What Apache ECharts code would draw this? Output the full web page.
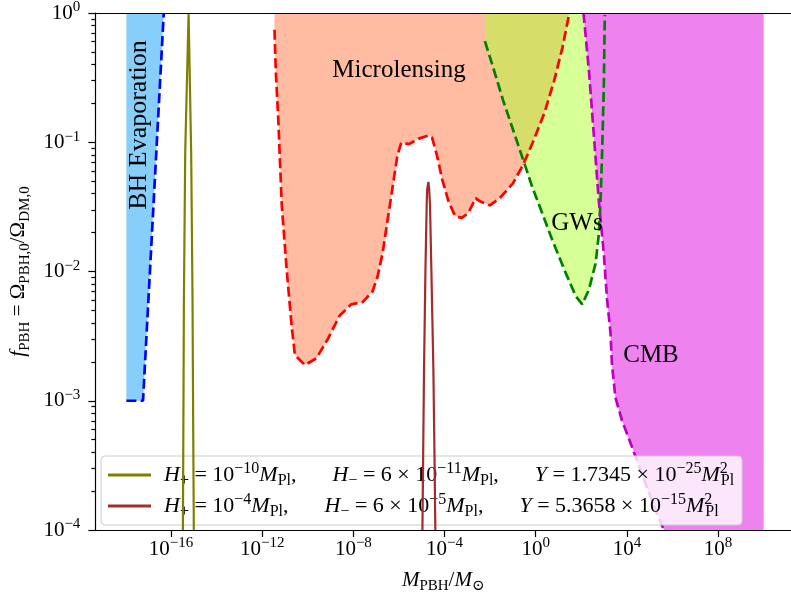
<!DOCTYPE html>
<html><head><meta charset="utf-8">
<script src="https://cdn.jsdelivr.net/npm/echarts@6/dist/echarts.min.js"></script>
<style>html,body{margin:0;padding:0;background:#fff}#c{width:791px;height:599px}</style>
</head><body><div id="c"></div>
<script>
// ---- data ----
const xTickVals = [1e-16, 1e-12, 1e-8, 1e-4, 1, 1e4, 1e8];
const yTickVals = [1e-4, 1e-3, 1e-2, 1e-1, 1];
const yMinorVals = [2e-4,3e-4,4e-4,5e-4,6e-4,7e-4,8e-4,9e-4,
  2e-3,3e-3,4e-3,5e-3,6e-3,7e-3,8e-3,9e-3,
  2e-2,3e-2,4e-2,5e-2,6e-2,7e-2,8e-2,9e-2,
  0.2,0.3,0.4,0.5,0.6,0.7,0.8,0.9];

const bhMass = [1.1e-18, 5.9e-18, 4.8e-17];
const bhFrac = [1e-3, 1e-3, 1.0];

const mlMass = [3.46e-12, 3.94e-12, 5.16e-12, 7.19e-12, 1.19e-11, 1.95e-11, 2.72e-11, 7.41e-11, 2.39e-10, 7.71e-10,
  2.46e-9, 7.94e-9, 2.56e-8, 6.97e-8, 1.15e-7, 1.90e-7, 3.13e-7, 5.17e-7, 8.51e-7, 1.27e-6,
  2.72e-6, 7.41e-6, 2.01e-5, 2.83e-5, 4.67e-5, 7.71e-5, 1.49e-4, 2.92e-4, 5.71e-4, 1.10e-3,
  2.32e-3, 3.56e-3, 9.70e-3, 0.0264, 0.1, 0.272, 0.741, 2.39, 6.50, 14.9, 30];
const mlFrac = [0.743, 0.357, 0.141, 0.0329, 0.01026, 3.81e-3, 2.26e-3, 1.89e-3, 2.13e-3, 3.02e-3,
  4.54e-3, 5.57e-3, 5.80e-3, 7.03e-3, 9.14e-3, 0.01375, 0.0246, 0.0441, 0.0789, 0.0995,
  0.0967, 0.1067, 0.113, 0.1087, 0.0789, 0.0524, 0.0349, 0.0268, 0.0260, 0.0284,
  0.0370, 0.0349, 0.0325, 0.0370, 0.0481, 0.0662, 0.0995, 0.168, 0.301, 0.540, 1.0];

const gwMass = [5.89e-3, 0.0135, 0.0367, 0.1, 0.272, 0.741, 2.01, 5.48, 21.0, 57.1, 110, 216, 423, 589, 697, 819, 971, 1072];
const gwFrac = [0.605, 0.380, 0.212, 0.1257, 0.0743, 0.0440, 0.0277, 0.0173, 9.69e-3, 6.44e-3, 5.57e-3, 7.24e-3, 0.01154, 0.0195, 0.0349, 0.0836, 0.268, 0.966];

const cmbMass = [125, 216, 357, 589, 971, 1350, 1897, 2228, 3133, 6067, 1.65e4, 6.31e4, 1.72e5, 3.94e5, 2.4e6, 1e10];
const cmbFrac = [1.0, 0.358, 0.112, 0.0349, 0.01375, 6.08e-3, 3.40e-3, 1.89e-3, 1.06e-3, 7.05e-4, 4.42e-4, 2.33e-4, 1.46e-4, 1.03e-4, 4.5e-5, 1e-5];

const oliveMass = [3.24e-16, 3.32e-16, 3.49e-16, 3.67e-16, 4.19e-16, 5.89e-16, 7.64e-16, 8.77e-16, 9.33e-16, 1.0e-15, 1.03e-15];
const oliveFrac = [1e-5, 1e-4, 7.46e-4, 6.08e-3, 0.0836, 1.0, 0.0836, 6.08e-3, 7.46e-4, 1e-4, 1e-5];

const brownMass = [1.0e-5, 1.07e-5, 1.14e-5, 1.26e-5, 1.45e-5, 1.65e-5, 1.72e-5, 1.95e-5, 2.12e-5, 2.30e-5, 2.64e-5, 3.23e-5, 3.67e-5, 3.94e-5, 4.2e-5];
const brownFrac = [1e-5, 1e-4, 3.11e-4, 1.79e-3, 1.03e-2, 3.31e-2, 4.3e-2, 4.94e-2, 4.3e-2, 3.31e-2, 1.03e-2, 1.79e-3, 3.11e-4, 1e-4, 1e-5];

const curveNames = [
  'H+ = 10^-10 MPl,   H- = 6x10^-11 MPl,   Y = 1.7345x10^-25 MPl^2',
  'H+ = 10^-4 MPl,   H- = 6x10^-5 MPl,   Y = 5.3658x10^-15 MPl^2'
];
const curveLabels = [
  '{i|H}{sb|+}{r| = 10}{sp|\u221210}{i|M}{sb|Pl}{r|,}{q| }{i|H}{sb|\u2212}{r| = 6 \u00d7 10}{sp|\u221211}{i|M}{sb|Pl}{r|,}{q| }{i|Y}{r| = 1.7345 \u00d7 10}{sp|\u221225}{i|M}{sp0|2}{sb|Pl}',
  '{i|H}{sb|+}{r| = 10}{sp|\u22124}{i|M}{sb|Pl}{r|,}{q| }{i|H}{sb|\u2212}{r| = 6 \u00d7 10}{sp|\u22125}{i|M}{sb|Pl}{r|,}{q| }{i|Y}{r| = 5.3658 \u00d7 10}{sp|\u221215}{i|M}{sp0|2}{sb|Pl}'
];
const regionLabels = ['BH Evaporation', 'Microlensing', 'GWs', 'CMB'];

// ---- helpers ----
const SERIF = '"Liberation Serif", "DejaVu Serif", serif';
function pairs(a, b) { return a.map((v, i) => [v, b[i]]); }
function powLabel(v) {
  const e = Math.round(Math.log10(v));
  return '{b|10}{s|' + (e < 0 ? '\u2212' + (-e) : String(e)) + '}';
}
const tickRich = {
  b: { fontFamily: SERIF, fontSize: 21, lineHeight: 26, color: '#000' },
  s: { fontFamily: SERIF, fontSize: 15, lineHeight: 15, verticalAlign: 'top', color: '#000' }
};
function makeRich(fs, fsSmall, lh, quad) {
  return {
    r: { fontFamily: SERIF, fontSize: fs, lineHeight: lh, color: '#000' },
    i: { fontFamily: SERIF, fontSize: fs, lineHeight: lh, fontStyle: 'italic', color: '#000' },
    sb: { fontFamily: SERIF, fontSize: fsSmall, lineHeight: fsSmall, verticalAlign: 'bottom', color: '#000' },
    sp: { fontFamily: SERIF, fontSize: fsSmall, lineHeight: fsSmall, verticalAlign: 'top', color: '#000' },
    sp0: { fontFamily: SERIF, fontSize: fsSmall, lineHeight: fsSmall, verticalAlign: 'top', width: 1, color: '#000' },
    q: { fontFamily: SERIF, fontSize: fs, width: quad }
  };
}
const mathRich = makeRich(21, 15, 28, 21);
const legendRich = makeRich(22, 16, 28, 36);

const xMin = Math.pow(10, -19.32), xMax = Math.pow(10, 11.2);
const AX = { color: '#000', width: 1.2 };

function fill(name, m, f, color) {
  return { type: 'line', name: name, data: pairs(m, f), symbol: 'none', silent: true, z: 1,
    lineStyle: { width: 0, opacity: 0 }, areaStyle: { origin: 'end', color: color, opacity: 1 } };
}
function edge(name, m, f, color) {
  return { type: 'line', name: name, data: pairs(m, f), symbol: 'none', silent: true, z: 3,
    lineStyle: { color: color, width: 2.7, type: [10, 4.3] } };
}

const chart = echarts.init(document.getElementById('c'), null, { renderer: 'canvas' });
chart.setOption({
  animation: false,
  backgroundColor: '#fff',
  grid: { left: 92, top: 8, width: 702, height: 527 },
  xAxis: [{
    type: 'log', logBase: 10, min: xMin, max: xMax, z: 10,
    axisLine: { lineStyle: AX },
    axisTick: { customValues: xTickVals, length: 7, lineStyle: AX },
    axisLabel: { customValues: xTickVals, formatter: powLabel, rich: tickRich, margin: 6, color: '#000' },
    splitLine: { show: false },
    name: '{i|M}{sb|PBH}{r|/}{i|M}{sb|\u2299}', nameLocation: 'middle', nameGap: 36,
    nameTextStyle: { rich: mathRich }
  }, {
    type: 'log', logBase: 10, min: xMin, max: xMax, position: 'top', z: 10,
    axisLine: { lineStyle: AX }, axisTick: { show: false }, axisLabel: { show: false }, splitLine: { show: false }
  }],
  yAxis: [{
    type: 'log', logBase: 10, min: 1e-4, max: 1, z: 10,
    axisLine: { lineStyle: AX },
    axisTick: { customValues: yTickVals, length: 7, lineStyle: AX },
    axisLabel: { customValues: yTickVals, formatter: powLabel, rich: tickRich, margin: 15, color: '#000' },
    splitLine: { show: false },
    name: '{i|f}{sb|PBH}{r| = \u03a9}{sb|PBH,0}{r|/\u03a9}{sb|DM,0}', nameLocation: 'middle', nameRotate: 90, nameGap: 58,
    nameTextStyle: { rich: mathRich }
  }, {
    type: 'log', logBase: 10, min: 1e-4, max: 1, position: 'left', z: 10,
    axisLine: { show: false },
    axisTick: { customValues: yMinorVals, length: 4, lineStyle: AX },
    axisLabel: { show: false }, splitLine: { show: false }
  }],
  legend: {
    data: curveNames, orient: 'vertical', left: 101, top: 456,
    padding: [5, 8, 5, 7], itemGap: 3, itemWidth: 43, itemHeight: 3, icon: 'rect',
    backgroundColor: 'rgba(255,255,255,0.8)', borderColor: '#cccccc', borderWidth: 1, borderRadius: 4,
    formatter: function (name) { return curveLabels[curveNames.indexOf(name)]; },
    textStyle: { rich: legendRich, padding: [0, 0, 0, 8] },
    selectedMode: false
  },
  series: [
    fill(regionLabels[0], bhMass, bhFrac, '#87cefa'),
    fill(regionLabels[1], mlMass, mlFrac, 'rgba(255,160,122,0.7)'),
    fill(regionLabels[2], gwMass, gwFrac, 'rgba(173,255,47,0.5)'),
    fill(regionLabels[3], cmbMass, cmbFrac, '#ee82ee'),
    edge(regionLabels[0] + ' bound', bhMass, bhFrac, '#0000ff'),
    edge(regionLabels[1] + ' bound', mlMass, mlFrac, '#ff0000'),
    edge(regionLabels[2] + ' bound', gwMass, gwFrac, '#008000'),
    edge(regionLabels[3] + ' bound', cmbMass, cmbFrac, '#bf00bf'),
    { type: 'line', name: curveNames[0], data: pairs(oliveMass, oliveFrac), symbol: 'none', z: 4,
      lineStyle: { color: '#808000', width: 2.2 }, itemStyle: { color: '#808000' } },
    { type: 'line', name: curveNames[1], data: pairs(brownMass, brownFrac), symbol: 'none', z: 4,
      lineStyle: { color: '#a52a2a', width: 2.2 }, itemStyle: { color: '#a52a2a' } }
  ],
  graphic: [
    { type: 'text', x: 139, y: 125, rotation: Math.PI / 2, z: 20,
      style: { text: regionLabels[0], font: '26px ' + SERIF, fill: '#000', align: 'center', verticalAlign: 'middle' } },
    { type: 'text', x: 399, y: 70, z: 20,
      style: { text: regionLabels[1], font: '25px ' + SERIF, fill: '#000', align: 'center', verticalAlign: 'middle' } },
    { type: 'text', x: 577, y: 223, z: 20,
      style: { text: regionLabels[2], font: '25px ' + SERIF, fill: '#000', align: 'center', verticalAlign: 'middle' } },
    { type: 'text', x: 651, y: 355, z: 20,
      style: { text: regionLabels[3], font: '25px ' + SERIF, fill: '#000', align: 'center', verticalAlign: 'middle' } }
  ]
});
</script></body></html>
